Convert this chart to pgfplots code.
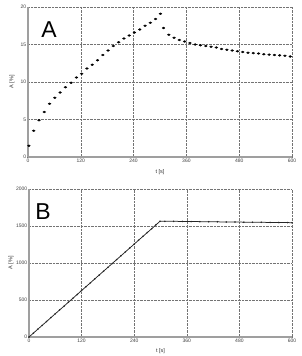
\documentclass[border=0pt]{standalone}
\usepackage{fontspec}
\setmainfont{Liberation Sans}
\usepackage{pgfplots}
\pgfplotsset{compat=1.18}
\begin{document}
\begin{tikzpicture}
\path[use as bounding box] (-28pt,-199pt) rectangle (273pt,157pt);
\pgfplotsset{
 mystyle/.style={
  scale only axis, axis lines=left, axis line style={-, draw=gray!75, line width=1.3pt},
  grid=major, grid style={densely dotted, black!55, line width=0.5pt},
  xmin=0, xmax=600, xtick={0,120,...,600}, minor xtick={60,180,...,540},
  tick style={black!55, line width=0.4pt}, major tick length=1.5pt, minor tick length=1.2pt,
  ticklabel style={font=\fontsize{5}{6}\selectfont, text=black!75, inner sep=0.8pt},
  label style={font=\fontsize{5.5}{6}\selectfont, text=black!80},
  /pgf/number format/assume math mode=true,
  /pgf/number format/set thousands separator={},
  xlabel={t [s]}, ylabel={A [\%]},
  clip=false,
 }
}
\begin{axis}[mystyle, name=a, at={(0pt,0pt)}, anchor=south west, width=264pt, height=150pt,
  ymin=0, ymax=20, ytick={0,5,...,20}, minor ytick={2.5,7.5,...,17.5},
  xlabel style={at={(axis description cs:0.5,0)}, anchor=center, yshift=-15pt},
  ylabel style={at={(axis description cs:0,0.5)}, anchor=center, yshift=16pt}]
\addplot[only marks, mark=*, mark size=0.95pt, black, mark options={xscale=1.45}] coordinates {
(2,1.5) (13,3.5) (25,4.9) (37,6.0) (49,7.1) (61,7.9) (73,8.6) (85,9.3) (98,9.9) (110,10.6)
(122,11.1) (134,11.8) (146,12.3) (158,12.9) (170,13.6) (182,14.2) (194,14.8) (206,15.3)
(218,15.8) (230,16.2) (242,16.6) (254,17.0) (266,17.5) (278,17.9) (290,18.4) (301,19.1)
(308,17.2) (320,16.3) (332,15.9) (344,15.6) (356,15.4) (368,15.2) (380,15.0) (392,14.9)
(404,14.8) (416,14.7) (428,14.6) (440,14.4) (452,14.3) (464,14.2) (476,14.1) (488,14.0)
(500,13.9) (512,13.85) (524,13.8) (536,13.7) (548,13.65) (560,13.6) (572,13.55) (584,13.5) (596,13.4)
};
\node[font=\fontsize{23}{23}\selectfont, text=black] at (axis description cs:0.08,0.85) {A};
\end{axis}
\begin{axis}[mystyle, at={(a.south west)}, anchor=south west, xshift=1pt, yshift=-180pt, width=263pt, height=148pt,
  ymin=0, ymax=2000, ytick={0,500,...,2000}, minor ytick={250,750,...,1750},
  xlabel style={at={(axis description cs:0.5,0)}, anchor=center, yshift=-14pt},
  ylabel style={at={(axis description cs:0,0.5)}, anchor=center, yshift=18pt}]
\addplot[black!85, line width=0.75pt, mark=*, mark size=0.35pt] coordinates {
(0,0) (10,52) (20,105) (30,157) (40,209) (50,262) (60,314) (70,366) (80,418) (90,471)
(100,523) (110,575) (120,628) (130,680) (140,732) (150,785) (160,837) (170,889) (180,941)
(190,994) (200,1046) (210,1098) (220,1151) (230,1203) (240,1255) (250,1308) (260,1360)
(270,1412) (280,1464) (290,1517) (299,1565)
(310,1564) (330,1563) (350,1562) (370,1560) (390,1559) (410,1558) (430,1556) (450,1555)
(470,1554) (490,1552) (510,1551) (530,1550) (550,1548) (570,1547) (590,1546) (600,1545)
};
\node[font=\fontsize{23}{23}\selectfont, text=black] at (axis description cs:0.053,0.845) {B};
\end{axis}
\end{tikzpicture}
\end{document}
